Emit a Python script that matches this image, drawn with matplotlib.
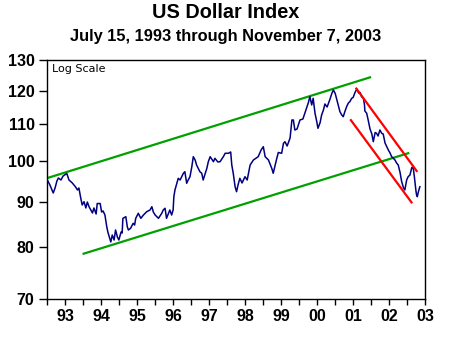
import matplotlib
matplotlib.use("Agg")
import matplotlib.pyplot as plt
from matplotlib.ticker import FixedLocator, FixedFormatter, NullLocator
import numpy as np

# ---- data (decimal year, index value) ----
dates = [1993.55, 1993.62, 1993.71, 1993.76, 1993.81, 1993.85, 1993.92, 1993.98, 1994.08, 1994.14,
         1994.23, 1994.32, 1994.37, 1994.41, 1994.46, 1994.50, 1994.55, 1994.60, 1994.64, 1994.69,
         1994.78, 1994.82, 1994.88, 1994.91, 1994.99, 1995.03, 1995.07, 1995.12, 1995.17, 1995.20,
         1995.24, 1995.28, 1995.32, 1995.37, 1995.41, 1995.46, 1995.50, 1995.56, 1995.59, 1995.61,
         1995.69, 1995.73, 1995.76, 1995.82, 1995.89, 1995.93, 1995.96, 1996.03, 1996.10, 1996.17,
         1996.26, 1996.35, 1996.40, 1996.44, 1996.49, 1996.58, 1996.67, 1996.71, 1996.76, 1996.80,
         1996.89, 1996.94, 1996.98, 1997.00, 1997.03, 1997.08, 1997.12, 1997.17, 1997.26, 1997.30,
         1997.35, 1997.39, 1997.44, 1997.49, 1997.53, 1997.58, 1997.62, 1997.71, 1997.76, 1997.80,
         1997.90, 1997.94, 1997.99, 1998.08, 1998.12, 1998.20, 1998.26, 1998.35, 1998.40, 1998.49,
         1998.55, 1998.58, 1998.62, 1998.67, 1998.71, 1998.75, 1998.80, 1998.86, 1998.94, 1999.00,
         1999.08, 1999.17, 1999.30, 1999.38, 1999.44, 1999.49, 1999.58, 1999.67, 1999.71, 1999.81,
         1999.85, 1999.94, 1999.99, 2000.03, 2000.09, 2000.17, 2000.22, 2000.26, 2000.30, 2000.36,
         2000.44, 2000.52, 2000.58, 2000.67, 2000.71, 2000.76, 2000.80, 2000.85, 2000.90, 2000.93,
         2000.99, 2001.03, 2001.08, 2001.12, 2001.18, 2001.26, 2001.31, 2001.35, 2001.40, 2001.44,
         2001.49, 2001.53, 2001.58, 2001.62, 2001.67, 2001.72, 2001.76, 2001.80, 2001.85, 2001.89,
         2001.94, 2001.99, 2002.04, 2002.08, 2002.12, 2002.17, 2002.20, 2002.21, 2002.26, 2002.30,
         2002.35, 2002.40, 2002.44, 2002.49, 2002.53, 2002.57, 2002.62, 2002.67, 2002.71, 2002.76,
         2002.81, 2002.85, 2002.90, 2002.94, 2002.98, 2003.03, 2003.08, 2003.12, 2003.17, 2003.21,
         2003.26, 2003.30, 2003.35, 2003.39, 2003.44, 2003.49, 2003.53, 2003.56, 2003.60, 2003.62,
         2003.64, 2003.67, 2003.71]
index_values = [95.27, 94.04, 92.12, 93.32, 95.02, 95.77, 95.27, 96.27, 96.89, 95.27,
                94.54, 93.56, 92.84, 93.32, 90.93, 89.30, 90.06, 88.61, 89.99, 88.84,
                87.47, 88.61, 87.24, 89.64, 89.64, 87.69, 87.92, 87.01, 84.41, 83.26,
                82.19, 81.14, 82.62, 81.56, 83.70, 82.19, 81.56, 83.26, 83.05, 86.27,
                86.63, 84.41, 83.70, 84.07, 85.16, 84.79, 86.27, 87.40, 86.27, 87.01,
                87.76, 88.15, 88.90, 87.69, 87.01, 86.27, 87.40, 88.15, 88.54, 86.27,
                88.15, 87.01, 88.15, 91.24, 92.84, 94.46, 95.69, 95.27, 96.94, 97.34,
                94.46, 95.27, 96.09, 98.61, 101.20, 100.34, 99.04, 97.34, 96.94, 95.27,
                98.20, 99.90, 101.20, 99.90, 100.78, 99.82, 99.90, 101.20, 102.10, 102.10,
                102.44, 99.04, 96.94, 93.63, 92.43, 94.04, 95.69, 94.54, 96.09, 95.27,
                99.04, 100.34, 101.20, 102.97, 103.85, 101.20, 100.34, 98.20, 96.94, 100.86,
                102.31, 102.10, 104.77, 105.21, 104.04, 106.22, 111.29, 111.29, 108.44, 108.73,
                111.29, 111.58, 113.47, 116.45, 118.27, 115.70, 117.72, 113.24, 110.71, 108.92,
                110.57, 112.74, 114.21, 116.00, 115.10, 117.51, 119.25, 120.28, 119.25, 117.51,
                115.25, 113.71, 112.74, 112.24, 113.92, 115.40, 116.30, 116.69, 117.72, 117.97,
                119.50, 120.59, 119.34, 119.50, 118.21, 117.72, 115.70, 113.92, 113.24, 111.29,
                108.73, 107.33, 105.21, 107.74, 107.52, 106.77, 108.44, 107.52, 107.33, 104.85,
                103.77, 102.97, 102.10, 101.20, 100.86, 100.34, 99.49, 99.04, 97.14, 95.02,
                93.44, 92.84, 95.27, 96.09, 96.52, 98.41, 98.20, 96.09, 92.84, 91.64,
                91.24, 92.43, 93.63]

# trend channel endpoints (decimal year, value)
upper_green_x = [1993.46, 2002.38]
upper_green_y = [95.5, 124.4]
lower_green_x = [1994.51, 2003.42]
lower_green_y = [78.65, 102.2]
upper_red_x = [2001.96, 2003.64]
upper_red_y = [121.0, 97.3]
lower_red_x = [2001.81, 2003.50]
lower_red_y = [111.5, 89.7]

x_start, x_end = 1993.54, 2003.85
year_labels = ["93", "94", "95", "96", "97", "98", "99", "00", "01", "02", "03"]
y_ticks = [70, 80, 90, 100, 110, 120, 130]

title = "US Dollar Index"
subtitle = "July 15, 1993 through November 7, 2003"

# ---- figure ----
fig = plt.figure(figsize=(4.53, 3.39), dpi=100)
fig.patch.set_facecolor("white")
ax = fig.add_axes([47/453, 1 - 299/339, (425-47)/453, (299-60)/339])

ax.plot(upper_green_x, upper_green_y, color="#00A000", lw=1.6, solid_capstyle="butt", zorder=2)
ax.plot(lower_green_x, lower_green_y, color="#00A000", lw=1.6, solid_capstyle="butt", zorder=2)
ax.plot(dates, index_values, color="#000080", lw=1.1, zorder=3)
ax.plot(upper_red_x, upper_red_y, color="#FF0000", lw=1.6, solid_capstyle="butt", zorder=4)
ax.plot(lower_red_x, lower_red_y, color="#FF0000", lw=1.6, solid_capstyle="butt", zorder=4)

ax.set_yscale("log")
ax.set_ylim(70, 130)
ax.yaxis.set_major_locator(FixedLocator(y_ticks))
ax.yaxis.set_major_formatter(FixedFormatter([str(v) for v in y_ticks]))
ax.yaxis.set_minor_locator(NullLocator())

ax.set_xlim(x_start, x_end)
xt = np.linspace(x_start, x_end, 2 * len(year_labels))
xl = []
for i in range(len(xt)):
    xl.append(year_labels[(i - 1) // 2] if i % 2 == 1 else "")
ax.xaxis.set_major_locator(FixedLocator(xt))
ax.xaxis.set_major_formatter(FixedFormatter(xl))
ax.xaxis.set_minor_locator(NullLocator())

for s in ax.spines.values():
    s.set_linewidth(1.0)
    s.set_color("black")

ax.tick_params(axis="y", direction="out", length=5.5, width=1, pad=3.5)
ax.tick_params(axis="x", direction="out", length=4.5, width=1, pad=3)
for lab in ax.get_xticklabels() + ax.get_yticklabels():
    lab.set_fontfamily("Liberation Sans")
    lab.set_fontweight("bold")
    lab.set_fontsize(11.5)

ax.text(0.012, 0.985, "Log Scale", transform=ax.transAxes, ha="left", va="top",
        fontsize=8, family="DejaVu Sans")

fig.text(225.5/453, 1 - 13/339, title, ha="center", va="center",
         fontsize=14.3, fontweight="bold", family="Liberation Sans")
fig.text(225.5/453, 1 - 36/339, subtitle, ha="center", va="center",
         fontsize=11.8, fontweight="bold", family="Liberation Sans")

fig.savefig("out.png", dpi=100, facecolor="white")
